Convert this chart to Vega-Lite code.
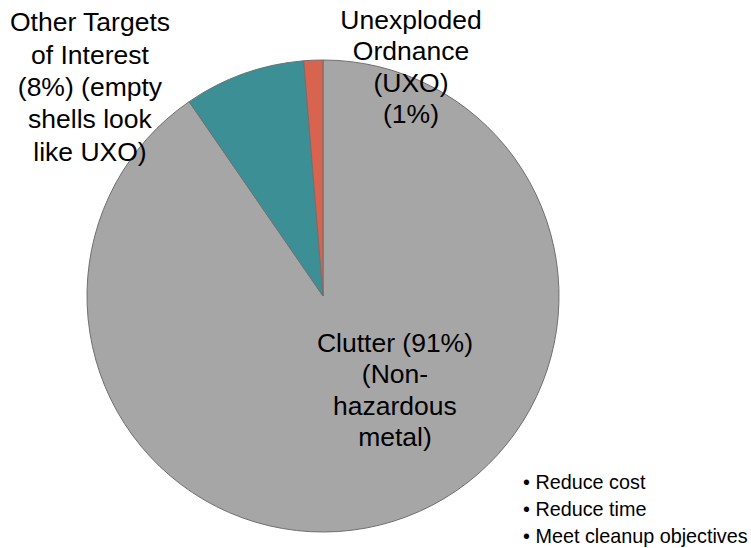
{
  "$schema": "https://vega.github.io/schema/vega-lite/v6.json",
  "autosize": "none",
  "width": 400,
  "height": 384,
  "padding": {"left": 123, "right": 228, "top": 104, "bottom": 60},
  "background": "white",
  "config": {"view": {"stroke": null}},
  "title": {
    "text": ["• Reduce cost", "• Reduce time", "• Meet cleanup objectives"],
    "orient": "bottom",
    "anchor": "end",
    "align": "left",
    "baseline": "alphabetic",
    "frame": "group",
    "offset": 0,
    "dy": -117,
    "font": "Liberation Sans",
    "fontSize": 19.8,
    "fontWeight": "normal",
    "color": "#000000",
    "lineHeight": 27
  },
  "data": {
    "values": [
      {"category": "Clutter", "value": 90.4, "ord": 1, "label": "Clutter (91%)\n(Non-\nhazardous\nmetal)"},
      {"category": "Other Targets of Interest", "value": 8.3, "ord": 2, "label": "Other Targets\nof Interest\n(8%) (empty\nshells look\nlike UXO)"},
      {"category": "Unexploded Ordnance", "value": 1.3, "ord": 3, "label": "Unexploded\nOrdnance\n(UXO)\n(1%)"}
    ]
  },
  "encoding": {
    "theta": {"field": "value", "type": "quantitative", "stack": true},
    "order": {"field": "ord", "type": "quantitative"}
  },
  "layer": [
    {
      "mark": {"type": "arc", "outerRadius": 236, "stroke": "#707070", "strokeWidth": 1},
      "encoding": {
        "color": {
          "field": "category",
          "type": "nominal",
          "scale": {
            "domain": ["Clutter", "Other Targets of Interest", "Unexploded Ordnance"],
            "range": ["#a6a6a6", "#3d8f96", "#d8644f"]
          },
          "legend": null
        }
      }
    },
    {
      "mark": {"type": "text", "radius": 150, "dx": 27.4, "dy": -95.4, "align": "center", "baseline": "middle", "lineBreak": "\n", "lineHeight": 31.5, "font": "Liberation Sans", "fontSize": 26.5, "color": "#000000"},
      "encoding": {
        "detail": {"field": "category", "type": "nominal"},
        "text": {"condition": {"test": "datum.category === 'Clutter'", "field": "label", "type": "nominal"}, "value": ""}
      }
    },
    {
      "mark": {"type": "text", "radius": 300, "dx": -132.3, "dy": 10, "align": "center", "baseline": "middle", "lineBreak": "\n", "lineHeight": 32.3, "font": "Liberation Sans", "fontSize": 26.5, "color": "#000000"},
      "encoding": {
        "detail": {"field": "category", "type": "nominal"},
        "text": {"condition": {"test": "datum.category === 'Other Targets of Interest'", "field": "label", "type": "nominal"}, "value": ""}
      }
    },
    {
      "mark": {"type": "text", "radius": 240, "dx": 97.8, "dy": -35.4, "align": "center", "baseline": "middle", "lineBreak": "\n", "lineHeight": 31.5, "font": "Liberation Sans", "fontSize": 26.5, "color": "#000000"},
      "encoding": {
        "detail": {"field": "category", "type": "nominal"},
        "text": {"condition": {"test": "datum.category === 'Unexploded Ordnance'", "field": "label", "type": "nominal"}, "value": ""}
      }
    }
  ]
}
